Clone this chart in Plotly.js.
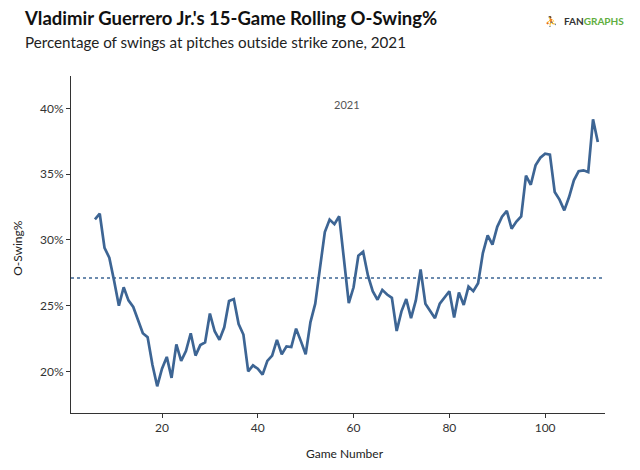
<!DOCTYPE html>
<html>
<head>
<meta charset="utf-8">
<script src="https://cdn.plot.ly/plotly-3.0.1.min.js"></script>
<style>html,body{margin:0;padding:0;background:#fff;}#chart{width:640px;height:470px;}</style>
</head>
<body>
<div id="chart"></div>
<script>
// Game numbers and 15-game rolling O-Swing% values
const games = [6,7,8,9,10,11,12,13,14,15,16,17,18,19,20,21,22,23,24,25,26,27,28,29,30,31,32,33,34,35,36,37,38,39,40,41,42,43,44,45,46,47,48,49,50,51,52,53,54,55,56,57,58,59,60,61,62,63,64,65,66,67,68,69,70,71,72,73,74,75,76,77,78,79,80,81,82,83,84,85,86,87,88,89,90,91,92,93,94,95,96,97,98,99,100,101,102,103,104,105,106,107,108,109,110,111];
const oswing = [31.57,32.0,29.4,28.65,26.9,25.0,26.4,25.4,24.9,23.9,22.9,22.6,20.5,18.86,20.2,21.1,19.5,22.05,20.8,21.55,22.9,21.2,22.0,22.2,24.4,23.05,22.4,23.35,25.35,25.5,23.6,22.8,20.0,20.45,20.2,19.75,20.8,21.2,22.4,21.3,21.9,21.85,23.25,22.3,21.3,23.75,25.15,27.9,30.6,31.55,31.2,31.8,28.6,25.2,26.4,28.8,29.1,27.3,26.1,25.45,26.2,25.85,25.6,23.07,24.57,25.5,24.05,25.4,27.75,25.15,24.6,24.05,25.15,25.65,26.1,24.1,26.0,25.05,26.45,26.1,26.7,29.0,30.35,29.65,31.0,31.77,32.22,30.86,31.4,31.8,34.9,34.2,35.68,36.26,36.57,36.5,33.65,33.07,32.25,33.27,34.54,35.24,35.3,35.17,39.18,37.45];
const seasonAvg = 27.1;
const yTicks = [20,25,30,35,40];
const yTickLabels = ['20%','25%','30%','35%','40%'];
const xTicks = [20,40,60,80,100];
const xTickLabels = ['20','40','60','80','100'];
const titleText = "Vladimir Guerrero Jr.'s 15-Game Rolling O-Swing%";
const subtitleText = "Percentage of swings at pitches outside strike zone, 2021";
const seasonLabel = "2021";

const blue = '#3d6594';
const font = 'Lato, "Open Sans", sans-serif';

const trace = {
  x: games, y: oswing, type: 'scatter', mode: 'lines',
  line: {color: blue, width: 2.7}, hoverinfo: 'skip'
};

const layout = {
  width: 640, height: 470,
  margin: {l: 71, r: 35, t: 76, b: 57},
  paper_bgcolor: '#fff', plot_bgcolor: '#fff',
  showlegend: false,
  font: {family: font, color: '#333'},
  title: {
    text: '<b>' + titleText + '</b>',
    font: {family: font, size: 18.5, color: '#111'},
    xref: 'container', yref: 'container',
    x: 25/640, xanchor: 'left', y: 1 - 19/470, yanchor: 'middle'
  },
  xaxis: {
    range: [1.0, 112.5], tickmode: 'array', tickvals: xTicks, ticktext: xTickLabels,
    ticks: 'outside', ticklen: 4,
    tickcolor: '#333', showline: true, linecolor: '#333', linewidth: 1,
    showgrid: false, zeroline: false, tickfont: {size: 12, color: '#333'}
  },
  yaxis: {
    range: [16.83, 42.48], tickmode: 'array', tickvals: yTicks, ticktext: yTickLabels,
    ticks: 'outside', ticklen: 4,
    tickcolor: '#333', showline: true, linecolor: '#333', linewidth: 1,
    showgrid: false, zeroline: false, tickfont: {size: 12, color: '#333'}
  },
  shapes: [{
    type: 'line', xref: 'paper', x0: 0, x1: 1, yref: 'y', y0: seasonAvg, y1: seasonAvg,
    line: {color: blue, width: 1.5, dash: 'dot'}
  }],
  annotations: [
    {text: subtitleText, xref: 'paper', yref: 'paper', x: (23-71)/534, y: (413-42)/337,
     xanchor: 'left', yanchor: 'middle', showarrow: false, font: {size: 15.2, color: '#222'}},
    {text: '<b><span style="color:#333">FAN</span><span style="color:#5fae3e">GRAPHS</span></b>',
     xref: 'paper', yref: 'paper', x: (626-71)/534, y: (413-21)/337,
     xanchor: 'right', yanchor: 'middle', showarrow: false, font: {size: 10}},
    {text: '<b>⛹</b>', xref: 'paper', yref: 'paper', x: (559-71)/534, y: (413-21)/337,
     xanchor: 'right', yanchor: 'middle', showarrow: false, font: {size: 10, color: '#444'}},
    {text: seasonLabel, xref: 'paper', yref: 'paper', x: (347-71)/534, y: (413-104)/337,
     xanchor: 'center', yanchor: 'middle', showarrow: false, font: {size: 11, color: '#555'}},
    {text: 'O-Swing%', xref: 'paper', yref: 'paper', x: (18-71)/534, y: 0.49,
     xanchor: 'center', yanchor: 'middle', textangle: -90, showarrow: false, font: {size: 12, color: '#222'}},
    {text: 'Game Number', xref: 'paper', yref: 'paper', x: (345-71)/534, y: (413-453)/337,
     xanchor: 'center', yanchor: 'middle', showarrow: false, font: {size: 12, color: '#222'}}
  ]
};

Plotly.newPlot('chart', [trace], layout, {displayModeBar: false, staticPlot: true});
</script>
</body>
</html>
